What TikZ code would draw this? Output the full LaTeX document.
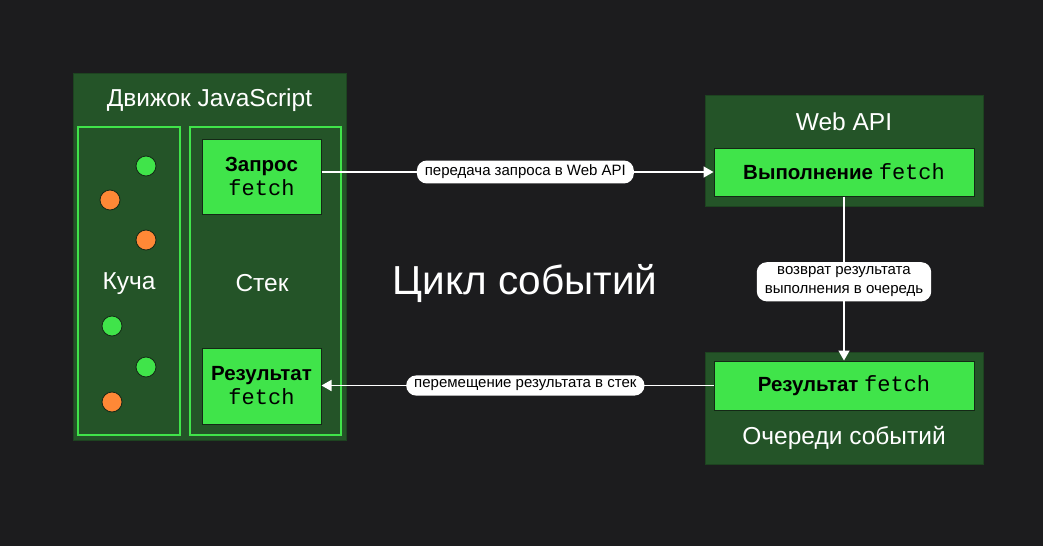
\documentclass[tikz,border=0pt]{standalone}
\usepackage{fontspec}
\setmainfont{Liberation Sans}
\setmonofont{Liberation Mono}
\usetikzlibrary{positioning,arrows.meta}
\definecolor{evbg}{RGB}{28,28,30}
\definecolor{evdark}{RGB}{36,84,40}
\definecolor{evgreen}{RGB}{64,228,74}
\definecolor{evorange}{RGB}{255,136,54}
\definecolor{evedge}{RGB}{20,40,22}

\tikzset{
  outerbox/.style={fill=evdark, draw=evdark!80!black, line width=0.8pt},
  framebox/.style={draw=evgreen, line width=2pt},
  fnbox/.style={fill=evgreen, draw=evedge, line width=1pt, align=center,
    text=black, font=\fontsize{20.5}{25}\selectfont\bfseries},
  title/.style={text=white, font=\fontsize{24.5}{28}\selectfont},
  dot/.style={circle, minimum size=20pt, inner sep=0pt, draw=evedge, line width=0.8pt},
  conn/.style={draw=white, line width=1.6pt, -{Triangle[length=10pt,width=11pt]}},
  pill/.style={fill=white, rounded corners=10pt, text=black, align=center,
    inner xsep=8pt, inner ysep=4.5pt, font=\fontsize{15}{19}\selectfont}
}
\newcommand{\fn}{{\ttfamily\mdseries\fontsize{22}{25}\selectfont fetch}}

\begin{document}
\begin{tikzpicture}[x=1pt,y=-1pt]
\useasboundingbox[fill=evbg] (0,0) rectangle (1043,546);

% JavaScript engine
\node[outerbox, minimum width=273pt, minimum height=367pt] (engine) at (209.5,256.5) {};
\node[title] (enginetitle) at (209.5,100) {Движок JavaScript};
\node[framebox, minimum width=102pt, minimum height=308pt] (heap) at (129,281) {};
\node[framebox, minimum width=151pt, minimum height=308pt] (stack) at (265.5,281) {};
\node[title] (heaplabel) at (129,284) {Куча};
\node[title] (stacklabel) at (262,283) {Стек};

% Heap objects
\node[dot, fill=evgreen] (d1) at (146,166) {};
\node[dot, fill=evorange] (d2) at (110,200) {};
\node[dot, fill=evorange] (d3) at (146,240) {};
\node[dot, fill=evgreen] (d4) at (112,326) {};
\node[dot, fill=evgreen] (d5) at (146,367) {};
\node[dot, fill=evorange] (d6) at (112,402) {};

% Stack frames
\node[fnbox, minimum width=119pt, minimum height=75pt] (req) at (261.5,176.5) {Запрос\\[-1pt]\fn};
\node[fnbox, minimum width=119pt, minimum height=76pt] (res) at (261.5,386) {Результат\\[-1pt]\fn};

% Web API
\node[outerbox, minimum width=278pt, minimum height=111pt] (webapi) at (844,150.5) {};
\node[title] (webapititle) at (844,122) {Web API};
\node[fnbox, minimum width=260pt, minimum height=48pt] (exec) at (844,172) {Выполнение \fn};

% Event queue
\node[outerbox, minimum width=278pt, minimum height=112pt] (queue) at (844,408) {};
\node[title] (queuetitle) at (844,438) {Очереди событий};
\node[fnbox, minimum width=260pt, minimum height=49pt] (qres) at (844,385.5) {Результат \fn};

% Event loop
\node[text=white, font=\fontsize{40.5}{46}\selectfont] (loop) at (525,283) {Цикл событий};

% Connectors
\draw[conn] (req.east |- exec.west) -- (exec.west)
  node[pill, pos=0.52] (l1) {передача запроса в Web API};
\draw[conn] (exec.south) -- (qres.north)
  node[pill, pos=0.52] (l2) {возврат результата\\выполнения в очередь};
\draw[conn] (qres.west) -- (qres.west -| res.east)
  node[pill, pos=0.48] (l3) {перемещение результата в стек};
\end{tikzpicture}
\end{document}
